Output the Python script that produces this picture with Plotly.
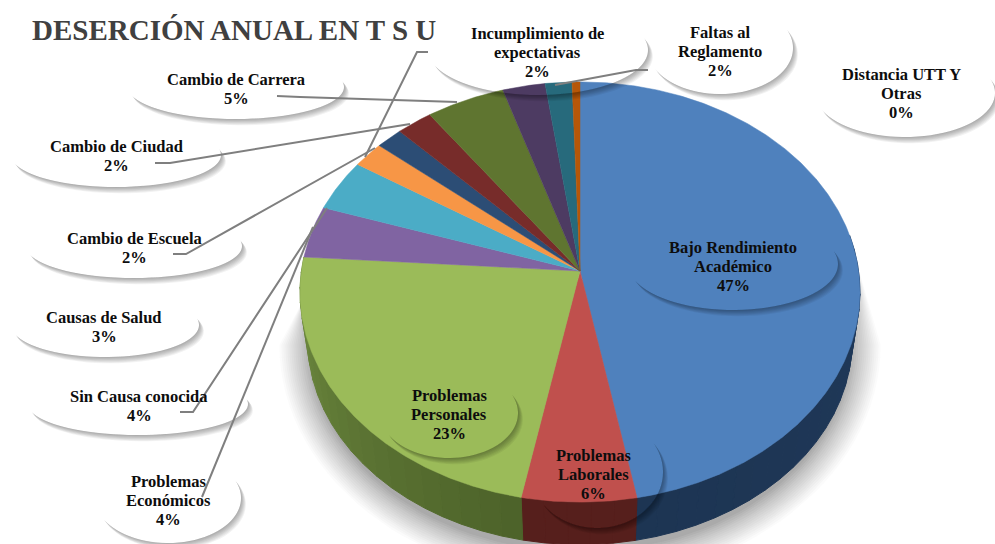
import math
import plotly.graph_objects as go

# ---- data ----
title_text = "DESERCIÓN ANUAL EN T S U"
categories = ["Bajo Rendimiento<br>Académico", "Problemas<br>Laborales", "Problemas<br>Personales",
              "Problemas<br>Económicos", "Sin Causa conocida", "Incumplimiento de<br>expectativas",
              "Cambio de Escuela", "Cambio de Ciudad", "Cambio de Carrera", "Causas de Salud",
              "Faltas al<br>Reglamento", "Distancia UTT Y<br>Otras"]
values = [47.0, 6.0, 23.0, 4.0, 4.0, 2.0, 1.7, 2.3, 5.0, 2.7, 1.7, 0.5]
colors = ["#4f81bd", "#c0504d", "#9bbb59", "#8064a2", "#4bacc6", "#f79646",
          "#2c4d75", "#772c2a", "#5f7530", "#4d3b62", "#276a7c", "#b65708"]

# ---- layout of the callouts (separate from the data) ----
text_pos = [(733, 266), (593, 474), (449, 414), (168, 500), (139, 406), (537, 52),
            (134, 248), (116, 156), (236, 89), (104, 327), (720, 51), (901, 93)]
ellipses = [(733, 264, 105, 46), (597, 472, 66, 56), (449, 413, 69, 45), (168, 498, 73, 45),
            (138, 404, 110, 31), (538, 50, 110, 45), (134, 246, 108, 32), (116, 155, 105, 32),
            (236, 87, 108, 32), (105, 325, 94, 32), (720, 48, 73, 46), (905, 93, 90, 44)]
connectors = [
    [(277, 96), (300, 97), (457, 102)],
    [(155, 163), (170, 163), (410, 124)],
    [(173, 254), (186, 254), (375, 148)],
    [(428, 52), (417, 52), (365, 157)],
    [(180, 412), (193, 412), (327, 208)],
    [(202, 497), (313, 227)],
    [(648, 70), (636, 70), (555, 85)],
]

CX, CY, A, B, K = 580, 271, 278.6, 208, 0.1
DEPTH_S, DEPTH_Z = 0.972, 49


def proj(theta, s=1.0, dz=0.0):
    X, Y = math.sin(theta), math.cos(theta)
    w = 1 + K * Y
    return CX + s * A * X / w, CY - s * B * Y / w + dz


def arc(t0, t1, s=1.0, dz=0.0, step=math.radians(0.5)):
    n = max(2, int(abs(t1 - t0) / step) + 1)
    return [proj(t0 + (t1 - t0) * i / (n - 1), s, dz) for i in range(n)]


def mix(c1, c2, f):
    a = [int(c1[i:i + 2], 16) for i in (1, 3, 5)]
    b = [int(c2[i:i + 2], 16) for i in (1, 3, 5)]
    return "#%02x%02x%02x" % tuple(round(p + (q - p) * f) for p, q in zip(a, b))


def to_path(pts):
    return "M" + " L".join(f"{x:.1f},{y:.1f}" for x, y in pts) + " Z"


fig = go.Figure()
total = sum(values)
bounds = [0.0]
for v in values:
    bounds.append(bounds[-1] + v / total * 2 * math.pi)

# soft shadow behind the pie: opaque layers from pale (outer) to grey (inner)
for e in range(32, 0, -2):
    ex, ey = 580, 345
    rx, ry = 268 + e, 204 + e
    pts = [(856, 262)]
    for d in range(0, 181, 3):
        t = math.radians(d)
        pts.append((ex + rx * math.cos(t), ey + ry * math.sin(t)))
    pts += [(304, 300), (856, 262)]
    col = mix("#a0a0a0", "#fbfbfb", (e / 32) ** 0.8)
    fig.add_trace(go.Scatter(x=[p[0] for p in pts], y=[p[1] for p in pts], mode="lines",
                             fill="toself", fillcolor=col, line=dict(color=col, width=1),
                             hoverinfo="skip", showlegend=False))

# side wall
wall_left = {0: "#1f3859", 1: "#561f1c", 2: "#4c6229"}
wall_right = {0: "#1d3553", 1: "#561f1c", 2: "#6f8b40"}
for i in range(3):
    t0, t1 = max(bounds[i], math.radians(80)), min(bounds[i + 1], math.radians(285))
    n = max(1, int((t1 - t0) / math.radians(4)))
    for j in range(n):
        a0, a1 = t0 + (t1 - t0) * j / n, t0 + (t1 - t0) * (j + 1) / n
        top = arc(a0, a1)
        bot = arc(a1, a0, DEPTH_S, DEPTH_Z)
        pts = top + bot + [top[0]]
        col = mix(wall_left[i], wall_right[i], (j + 0.5) / n)
        fig.add_trace(go.Scatter(x=[p[0] for p in pts], y=[p[1] for p in pts], mode="lines",
                                 fill="toself", fillcolor=col, line=dict(color=col, width=1),
                                 hoverinfo="skip", showlegend=False))

# top face
for i, (name, col) in enumerate(zip(categories, colors)):
    pts = [(CX, CY)] + arc(bounds[i], bounds[i + 1]) + [(CX, CY)]
    fig.add_trace(go.Scatter(x=[p[0] for p in pts], y=[p[1] for p in pts], mode="lines",
                             fill="toself", fillcolor=col, line=dict(color=col, width=0.5),
                             name=name.replace("<br>", " "), hoverinfo="name", showlegend=False))

shapes = []


# crescent shadows of the callouts
def crescent(cx, cy, a, b, dx, dy):
    ox, oy = dx / a, dy / b
    d = math.hypot(ox, oy)
    phi = math.atan2(oy, ox)
    h = math.acos(d / 2)
    pts = []
    for i in range(41):
        t = phi - h + 2 * h * i / 40
        pts.append((cx + a * math.cos(t), cy + b * math.sin(t)))
    for i in range(41):
        t = phi + (math.pi - h) - 2 * (math.pi - h) * i / 40
        pts.append((cx + dx + a * math.cos(t), cy + dy + b * math.sin(t)))
    return pts


for (cx, cy, a, b) in ellipses:
    for k in range(1, 8):
        shapes.append(dict(type="path", path=to_path(crescent(cx, cy, a, b, 0.7 * k, 0.9 * k)),
                           fillcolor="rgba(0,0,0,0.05)", line=dict(width=0), xref="x", yref="y"))

# connector lines
for pts in connectors:
    shapes.append(dict(type="path", path="M" + " L".join(f"{x},{y}" for x, y in pts),
                       line=dict(color="#7f7f7f", width=2), xref="x", yref="y"))

annotations = [dict(x=234, y=30, text=f"<b>{title_text}</b>", showarrow=False, xanchor="center",
                    yanchor="middle", font=dict(family="Liberation Serif", size=29, color="#404040"))]
LINE = 19
for name, v, (tx, ty) in zip(categories, values, text_pos):
    lines = name.split("<br>") + [f"{round(v)}%"]
    for i, line in enumerate(lines):
        annotations.append(dict(x=tx, y=ty + (i - (len(lines) - 1) / 2) * LINE,
                                text=f"<b>{line}</b>", showarrow=False,
                                xanchor="center", yanchor="middle", align="center",
                                font=dict(family="Liberation Serif", size=16.5, color="#0d0d0d")))

fig.update_layout(
    width=995, height=544, margin=dict(l=0, r=0, t=0, b=0),
    paper_bgcolor="white", plot_bgcolor="white", showlegend=False,
    xaxis=dict(range=[0, 995], visible=False, fixedrange=True),
    yaxis=dict(range=[544, 0], visible=False, fixedrange=True),
    shapes=shapes, annotations=annotations,
)
fig.write_html("out.html", config={"displayModeBar": False},
               post_script="document.body.style.margin='0';document.documentElement.style.overflow='hidden';")
